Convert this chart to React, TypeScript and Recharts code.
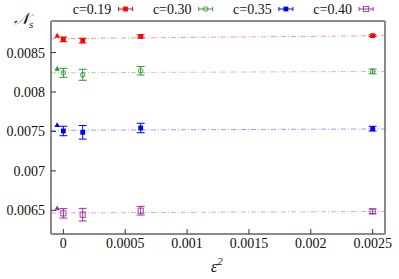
import { ScatterChart, Scatter, XAxis, YAxis, ErrorBar } from "recharts";

// ε² values of the lattice points and the extrapolated (shifted) point
const eps2 = [0, 0.00015625, 0.000625, 0.0025];
const extrapX = -0.00005;
const fitX = [-0.0001, 0.0026];

const labels = ["c=0.19", "c=0.30", "c=0.35", "c=0.40"];
const colors = ["#ff0000", "#339933", "#0000ff", "#a030a0"];
const markers = ["fsquare", "ocircle", "fsquare", "osquare"];

// N_s per c, with errors
const ns019 = [0.008667, 0.008651, 0.008705, 0.008714];
const err019 = [0.00003, 0.00003, 0.00002, 0.00001];
const ns030 = [0.008243, 0.008218, 0.008269, 0.008261];
const err030 = [0.000057, 0.00007, 0.000054, 0.00003];
const ns035 = [0.007506, 0.007489, 0.007544, 0.007535];
const err035 = [0.00006, 0.000086, 0.00006, 0.00003];
const ns040 = [0.006462, 0.006445, 0.006495, 0.006487];
const err040 = [0.00006, 0.00008, 0.000055, 0.00003];

// extrapolated values (triangles)
const extrap = [0.008718, 0.008299, 0.007585, 0.006529];

// fit lines at left / right edge
const fit019 = [0.008676, 0.008714];
const fit030 = [0.008243, 0.008261];
const fit035 = [0.007514, 0.007532];
const fit040 = [0.006466, 0.006486];

const xTicks = [0, 0.0005, 0.001, 0.0015, 0.002, 0.0025];
const yTicks = [0.0065, 0.007, 0.0075, 0.008, 0.0085];

const vals = [ns019, ns030, ns035, ns040];
const errs = [err019, err030, err035, err040];
const fits = [fit019, fit030, fit035, fit040];

const series = labels.map((label, i) => ({
  label,
  color: colors[i],
  marker: markers[i],
  points: eps2.map((x, j) => ({ x, y: vals[i][j], err: errs[i][j] })),
  tri: [{ x: extrapX, y: extrap[i] }],
  fit: fitX.map((x, j) => ({ x, y: fits[i][j] })),
}));

const W = 399;
const H = 279;
const font = "Liberation Serif";
const frame = "#8a8a8a";

function makeShape(kind: string, color: string) {
  return (p: any) => {
    const { cx, cy } = p;
    if (kind === "ocircle")
      return <circle cx={cx} cy={cy} r={2.3} fill="none" stroke={color} strokeWidth={0.9} />;
    if (kind === "osquare")
      return <rect x={cx - 2.6} y={cy - 2.6} width={5.2} height={5.2} fill="none" stroke={color} strokeWidth={0.9} />;
    return <rect x={cx - 2.4} y={cy - 2.4} width={4.8} height={4.8} fill={color} />;
  };
}

function triShape(color: string) {
  return (p: any) => {
    const { cx, cy } = p;
    return <path d={`M${cx - 2.8},${cy + 2.3}L${cx + 2.8},${cy + 2.3}L${cx},${cy - 2.6}Z`} fill={color} />;
  };
}

const tickStyle = { fontFamily: font, fontSize: 14, fill: "#111", style: { fontFamily: font } };

export default function App() {
  return (
    <div style={{ position: "absolute", left: 0, top: 0, width: W, height: H, background: "#fff", fontFamily: font }}>
      <ScatterChart width={W} height={H} margin={{ top: 20, right: 0, bottom: 15, left: 0 }}>
        <XAxis
          xAxisId="b"
          type="number"
          dataKey="x"
          domain={[-0.0001, 0.0026]}
          ticks={xTicks}
          allowDataOverflow
          height={30}
          tickSize={-5}
          tickMargin={9}
          tick={tickStyle}
          axisLine={{ stroke: frame, strokeWidth: 2 }}
          tickLine={{ stroke: "#333" }}
          interval={0}
        />
        <XAxis
          xAxisId="t"
          orientation="top"
          type="number"
          dataKey="x"
          domain={[-0.0001, 0.0026]}
          ticks={xTicks}
          allowDataOverflow
          height={1}
          tickSize={-5}
          tick={false}
          axisLine={{ stroke: frame, strokeWidth: 2 }}
          tickLine={{ stroke: "#333" }}
          interval={0}
        />
        <YAxis
          yAxisId="l"
          type="number"
          dataKey="y"
          domain={[0.0062, 0.0089]}
          ticks={yTicks}
          allowDataOverflow
          width={51}
          tickSize={-5}
          tickMargin={11}
          tick={tickStyle}
          axisLine={{ stroke: frame, strokeWidth: 2 }}
          tickLine={{ stroke: "#333" }}
          interval={0}
        />
        <YAxis
          yAxisId="r"
          orientation="right"
          type="number"
          dataKey="y"
          domain={[0.0062, 0.0089]}
          ticks={yTicks}
          allowDataOverflow
          width={14}
          tickSize={-5}
          tick={false}
          axisLine={{ stroke: frame, strokeWidth: 2 }}
          tickLine={{ stroke: "#333" }}
          interval={0}
        />
        {series.map((s) => (
          <Scatter
            key={s.label + "fit"}
            xAxisId="b"
            yAxisId="l"
            data={s.fit}
            line={{ stroke: s.color, strokeWidth: 1, strokeDasharray: "5 2 1 2", strokeOpacity: 0.4 }}
            shape={() => <g />}
            isAnimationActive={false}
          />
        ))}
        {series.map((s) => (
          <Scatter
            key={s.label + "tri"}
            xAxisId="b"
            yAxisId="l"
            data={s.tri}
            shape={triShape(s.color)}
            isAnimationActive={false}
          />
        ))}
        {series.map((s) => (
          <Scatter
            key={s.label}
            name={s.label}
            xAxisId="b"
            yAxisId="l"
            data={s.points}
            shape={makeShape(s.marker, s.color)}
            isAnimationActive={false}
          >
            <ErrorBar dataKey="err" direction="y" width={4} stroke={s.color} strokeWidth={1} />
          </Scatter>
        ))}
      </ScatterChart>
      <svg
        width={W}
        height={H}
        style={{ position: "absolute", left: 0, top: 0, pointerEvents: "none", fontFamily: font }}
      >
        {series.map((s, i) => {
          const tx = 72.7 + 80.2 * i;
          const mx = 125.5 + 80.2 * i;
          const my = 9;
          const shape = makeShape(s.marker, s.color);
          return (
            <g key={s.label}>
              <text x={tx} y={14} fontSize={14} fill="#111">
                {s.label}
              </text>
              <line x1={mx - 7} x2={mx + 7} y1={my} y2={my} stroke={s.color} strokeWidth={1} />
              <line x1={mx - 7} x2={mx - 7} y1={my - 2} y2={my + 2} stroke={s.color} strokeWidth={1} />
              <line x1={mx + 7} x2={mx + 7} y1={my - 2} y2={my + 2} stroke={s.color} strokeWidth={1} />
              {shape({ cx: mx, cy: my })}
            </g>
          );
        })}
        <text x={14} y={24} fontSize={16} fontStyle="italic" fill="#111">
          𝒩<tspan fontSize={11} dy={4}>s</tspan>
        </text>
        <text x={211} y={272} fontSize={16} fontStyle="italic" fill="#111">
          ε<tspan fontSize={11} dy={-7}>2</tspan>
        </text>
      </svg>
    </div>
  );
}
